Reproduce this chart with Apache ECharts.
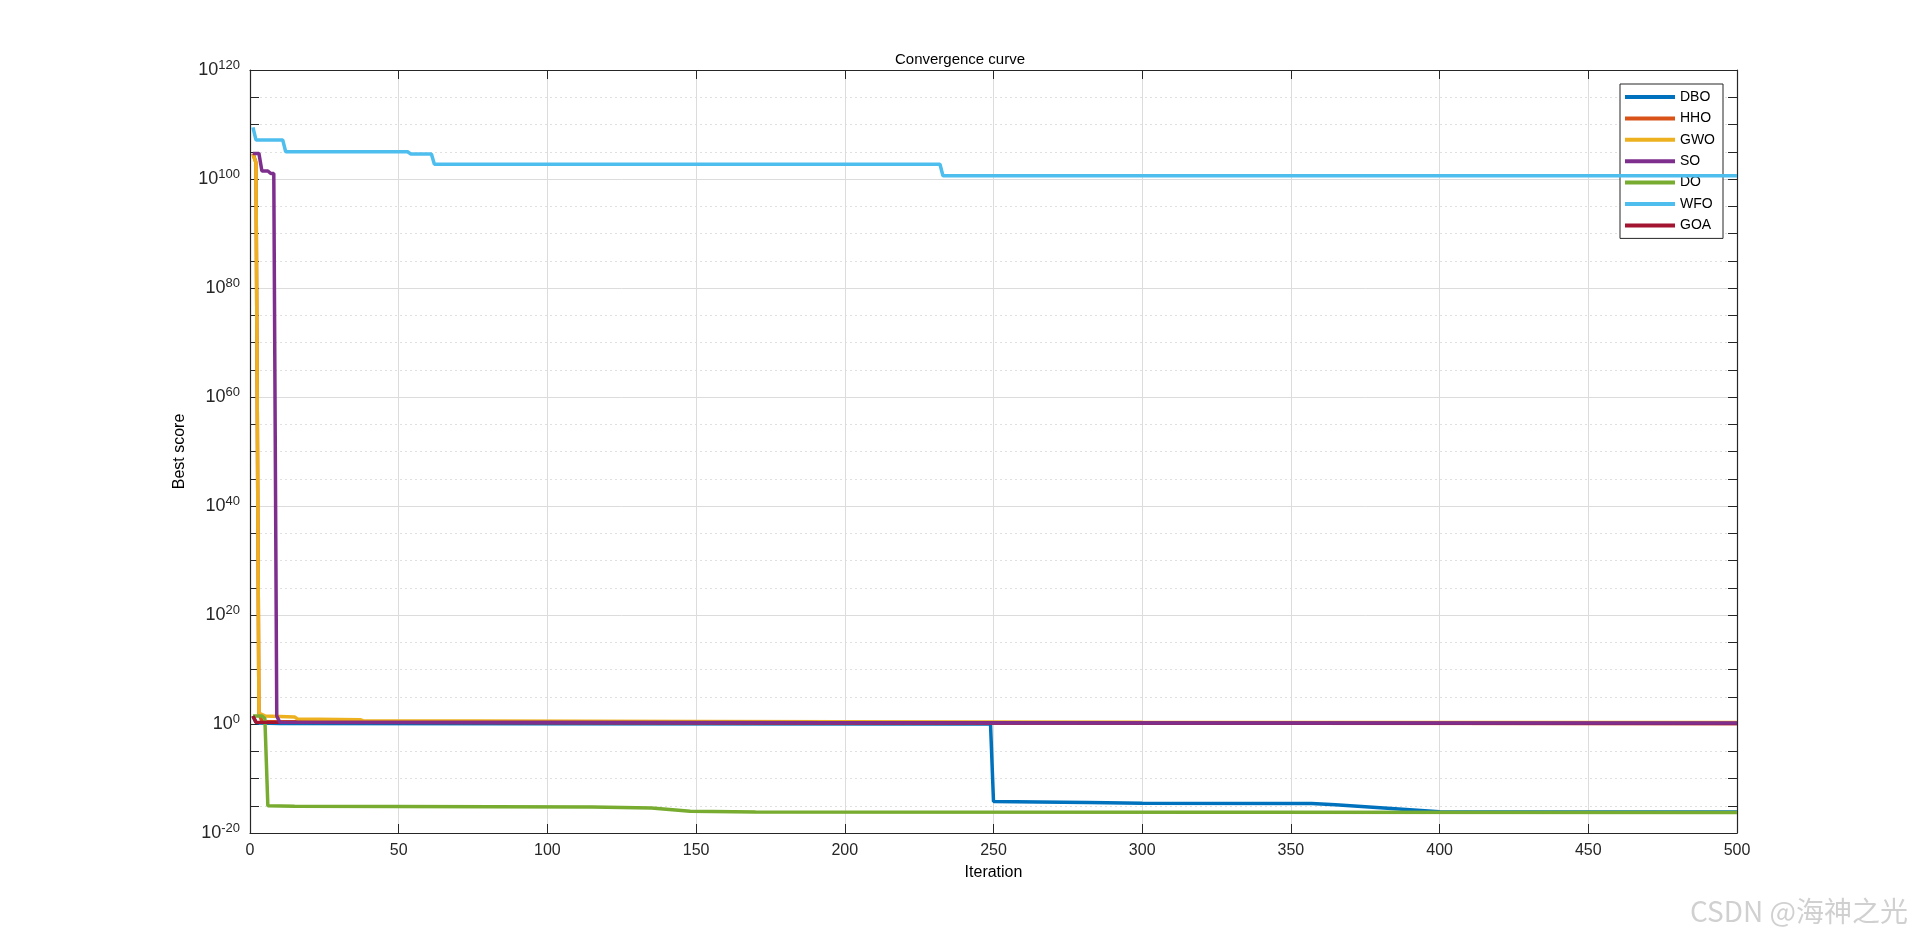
<!DOCTYPE html>
<html><head><meta charset="utf-8">
<script src="https://cdn.jsdelivr.net/npm/echarts@6/dist/echarts.min.js"></script>
<style>html,body{margin:0;padding:0;background:#fff}#c{width:1920px;height:937px}</style>
</head><body><div id="c"></div>
<script>
// breakpoints [iteration, best score]
const seriesNames = ['DBO','HHO','GWO','SO','DO','WFO','GOA'];
const colors = ['#0072BD','#D95319','#EDB120','#7E2F8E','#77AC30','#4DBEEE','#A2142F'];
const DBO = [[1,3e1],[2,2e0],[3,1.5e0],[10,1.2e0],[100,1.1e0],[249,1e0],[250,6e-15],[265,5e-15],[282,4e-15],[300,3e-15],[357,2.5e-15],[365,1.5e-15],[400,8e-17],[500,7e-17]];
const HHO = [[1,5e104],[2,1e103],[3,1e2],[4,3e0],[50,2e0],[200,1.5e0],[500,1.2e0]];
const GWO = [[1,3e104],[2,1e103],[3,1e2],[5,3e1],[15,2e1],[16,8e0],[37,6e0],[38,4e0],[150,3e0],[300,2e0],[500,1.8e0]];
const SO = [[1,5e104],[3,5e104],[4,3e101],[6,3e101],[7,1e101],[8,1e101],[9,3e1],[10,2e0],[100,1.8e0],[300,1.6e0],[500,1.5e0]];
const DO = [[1,3e1],[4,3e1],[5,1e1],[6,1e-15],[15,8e-16],[115,6e-16],[135,4e-16],[148,1e-16],[170,7e-17],[500,6e-17]];
const WFO = [[1,3e109],[2,1.5e107],[11,1.5e107],[12,1e105],[53,1e105],[54,4e104],[61,4e104],[62,5e102],[232,5e102],[233,4e100],[500,4e100]];
const GOA = [[1,3e1],[2,2e0],[500,1.3e0]];
const allData = [DBO,HHO,GWO,SO,DO,WFO,GOA];

const chart = echarts.init(document.getElementById('c'));
const font = 'Liberation Sans, Arial, sans-serif';
const sup = {fontSize:13, verticalAlign:'top', padding:[0,0,10,0], color:'#262626', fontFamily:font};
const axisLine = {show:true, onZero:false, lineStyle:{color:'#262626', width:1.2}};
const tick = {inside:true, length:9, lineStyle:{color:'#262626'}};
chart.setOption({
  animation:false,
  title:{text:'Convergence curve', left:'center', top:47, textStyle:{fontSize:15, fontWeight:'normal', color:'#000', fontFamily:font}},
  grid:{left:250, right:183, top:70, bottom:104, show:false},
  legend:{orient:'vertical', right:197, top:84, itemWidth:50, itemHeight:4, itemGap:7.4, icon:'rect',
    backgroundColor:'#fff', borderColor:'#262626', borderWidth:1, padding:[6,8,6,5],
    textStyle:{fontSize:14, color:'#000', fontFamily:font}, data:seriesNames},
  xAxis:[{type:'value', min:0, max:500, interval:50, name:'Iteration', nameLocation:'middle', nameGap:32,
    nameTextStyle:{fontSize:16, color:'#000', fontFamily:font},
    axisLine, axisTick:tick,
    axisLabel:{fontSize:16, color:'#262626', fontFamily:font, margin:10},
    splitLine:{show:true, lineStyle:{color:'#dcdcdc'}}},
   {type:'value', min:0, max:500, interval:50, position:'top', axisLine, axisTick:tick, axisLabel:{show:false}, splitLine:{show:false}}],
  yAxis:[{type:'value', min:-20, max:120, interval:20, name:'Best score', nameLocation:'middle', nameGap:56,
    nameTextStyle:{fontSize:16, color:'#000', fontFamily:font},
    axisLine, axisTick:tick,
    minorTick:{show:true, splitNumber:4, length:9, lineStyle:{color:'#262626'}},
    minorSplitLine:{show:true, lineStyle:{color:'#e0e0e0', type:[2,3]}},
    axisLabel:{margin:10, formatter:v=>'10{s|'+v+'}', rich:{s:sup}, fontSize:18, color:'#262626', fontFamily:font},
    splitLine:{show:true, lineStyle:{color:'#dcdcdc'}}},
   {type:'value', min:-20, max:120, interval:20, position:'right', axisLine, axisTick:tick,
    minorTick:{show:true, splitNumber:4, length:9, lineStyle:{color:'#262626'}},
    axisLabel:{show:false}, splitLine:{show:false}}],
  series: seriesNames.map((n,i)=>({name:n, type:'line', showSymbol:false, symbol:'none', color:colors[i],
    lineStyle:{width:3.5, color:colors[i]}, z: (n==='WFO'||n==='SO')?5:3,
    data: allData[i].map(p=>[p[0], Math.log10(p[1])])})),
  graphic:[{type:'text', right:12, bottom:12, style:{text:'CSDN @海神之光', fontSize:28, fill:'rgba(150,150,150,0.45)', fontFamily:'Noto Sans CJK SC, sans-serif'}}]
});
</script></body></html>
